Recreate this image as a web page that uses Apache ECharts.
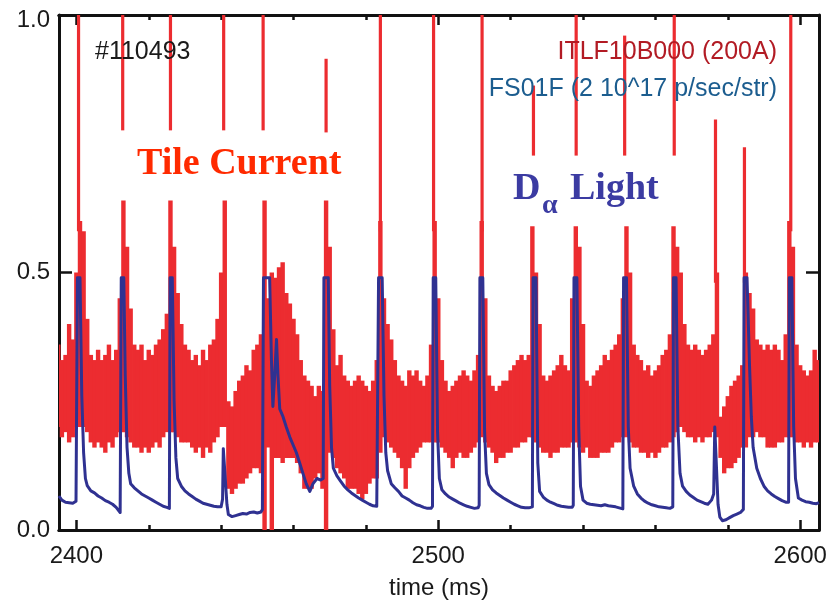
<!DOCTYPE html>
<html><head><meta charset="utf-8">
<script src="https://cdn.jsdelivr.net/npm/echarts@6/dist/echarts.min.js"></script>
<style>html,body{margin:0;padding:0;background:#fff}#c{width:839px;height:600px}</style>
</head><body><div id="c"></div>
<script>
// ---- data ----
const xTickMajor = [2400, 2500, 2600];
const xTickMinor = [2420, 2440, 2460, 2480, 2520, 2540, 2560, 2580];
// Tile current (ITLF10B000): per 1 ms bin [time, low envelope, high envelope]
const tileCurrentBins = [
[2395,.20,.36],[2396,.18,.33],[2397,.19,.34],[2398,.17,.40],[2399,.18,.37],[2400,.20,.50],[2401,.20,.60],[2402,.20,.58],[2403,.19,.41],[2404,.17,.34],
[2405,.16,.33],[2406,.17,.35],[2407,.16,.33],[2408,.15,.34],[2409,.17,.36],[2410,.16,.33],[2411,.18,.35],[2412,.19,.45],[2413,.19,.64],[2414,.18,.55],
[2415,.17,.43],[2416,.16,.36],[2417,.16,.35],[2418,.15,.36],[2419,.16,.33],[2420,.15,.35],[2421,.16,.34],[2422,.17,.36],[2423,.16,.37],[2424,.18,.39],
[2425,.19,.42],[2426,.19,.64],[2427,.19,.55],[2428,.18,.46],[2429,.17,.40],[2430,.17,.36],[2431,.17,.35],[2432,.16,.33],[2433,.15,.34],[2434,.16,.32],
[2435,.14,.35],[2436,.16,.33],[2437,.15,.36],[2438,.17,.37],[2439,.18,.41],[2440,.20,.50],[2441,.20,.64],[2442,.08,.25],[2443,.07,.24],[2444,.08,.27],
[2445,.09,.29],[2446,.09,.30],[2447,.10,.32],[2448,.11,.31],[2449,.12,.35],[2450,.12,.36],[2451,.11,.38],[2452,0,.64],[2453,.16,.45],[2454,0,.50],
[2455,.14,.49],[2456,.14,.51],[2457,.13,.52],[2458,.14,.46],[2459,.14,.44],[2460,.14,.41],[2461,.13,.38],[2462,.11,.33],[2463,.08,.30],[2464,.08,.29],
[2465,.08,.28],[2466,.10,.26],[2467,.11,.28],[2468,.08,.27],[2469,0,.64],[2470,.15,.55],[2471,.14,.39],[2472,.12,.32],[2473,.11,.34],[2474,.10,.30],
[2475,.08,.29],[2476,.08,.28],[2477,.08,.29],[2478,.07,.30],[2479,.06,.29],[2480,.07,.28],[2481,.09,.27],[2482,.10,.29],[2483,.10,.33],[2484,.15,.60],
[2485,.18,.45],[2486,.17,.40],[2487,.16,.37],[2488,.15,.33],[2489,.14,.30],[2490,.12,.29],[2491,.08,.28],[2492,.12,.31],[2493,.14,.30],[2494,.15,.31],
[2495,.16,.29],[2496,.17,.28],[2497,.17,.30],[2498,.17,.36],[2499,.17,.60],[2500,.17,.45],[2501,.16,.33],[2502,.15,.29],[2503,.14,.27],[2504,.12,.28],
[2505,.14,.29],[2506,.15,.30],[2507,.14,.31],[2508,.14,.30],[2509,.15,.29],[2510,.16,.31],[2511,.17,.34],[2512,.18,.60],[2513,.17,.45],[2514,.16,.30],
[2515,.15,.28],[2516,.13,.27],[2517,.14,.28],[2518,.14,.29],[2519,.15,.29],[2520,.15,.31],[2521,.16,.32],[2522,.16,.33],[2523,.17,.34],[2524,.17,.33],
[2525,.18,.34],[2526,.18,.59],[2527,.17,.50],[2528,.16,.40],[2529,.15,.30],[2530,.15,.29],[2531,.14,.30],[2532,.15,.31],[2533,.15,.32],[2534,.16,.34],
[2535,.16,.32],[2536,.16,.31],[2537,.17,.45],[2538,.17,.59],[2539,.16,.55],[2540,.15,.40],[2541,.16,.29],[2542,.14,.28],[2543,.14,.30],[2544,.14,.31],
[2545,.15,.32],[2546,.15,.34],[2547,.15,.33],[2548,.16,.35],[2549,.17,.36],[2550,.17,.38],[2551,.18,.45],[2552,.18,.59],[2553,.17,.50],[2554,.16,.36],
[2555,.16,.34],[2556,.15,.33],[2557,.15,.31],[2558,.14,.32],[2559,.15,.30],[2560,.14,.31],[2561,.15,.32],[2562,.16,.34],[2563,.16,.35],[2564,.17,.38],
[2565,.18,.59],[2566,.19,.55],[2567,.20,.50],[2568,.19,.40],[2569,.18,.36],[2570,.18,.35],[2571,.17,.36],[2572,.18,.35],[2573,.17,.34],[2574,.18,.35],
[2575,.18,.36],[2576,.19,.38],[2577,.18,.50],[2578,.14,.22],[2579,.11,.24],[2580,.12,.26],[2581,.12,.28],[2582,.13,.29],[2583,.14,.30],[2584,.16,.32],
[2585,.16,.50],[2586,.18,.46],[2587,.18,.43],[2588,.19,.37],[2589,.18,.36],[2590,.18,.35],[2591,.16,.36],[2592,.16,.35],[2593,.16,.36],[2594,.17,.35],
[2595,.17,.33],[2596,.18,.38],[2597,.18,.60],[2598,.18,.55],[2599,.17,.36],[2600,.17,.32],[2601,.16,.31],[2602,.17,.30],[2603,.16,.31],[2604,.17,.35],
[2605,.17,.33]
];
// Tile current ELM spikes: [time, stem bottom, stem top]
const tileCurrentSpikes = [
[2400.6,.58,1.02],[2412.8,.776,1.02],[2426.0,.776,1.02],[2440.7,.776,1.02],[2451.6,.776,1.02],[2469.0,.772,.915],
[2484.0,.58,1.02],[2498.7,.58,1.02],[2512.1,.58,1.02],[2526.3,.727,.863],[2538.1,.727,1.02],[2551.5,.727,.96],
[2565.2,.727,1.02],[2576.6,.48,.797],[2584.6,.48,.743],[2597.4,.58,1.02]
];
// D-alpha light (FS01F): [time, value]
const dAlphaPoints = [
[2395.2,.066],[2396,.058],[2397,.054],[2398,.053],[2399,.052],[2399.9,.056],[2400.3,.49],[2401.0,.49],[2401.5,.26],[2402.0,.15],[2402.5,.10],
[2403,.086],[2404,.076],[2405,.072],[2406,.066],[2407,.062],[2408,.057],[2409,.054],[2410,.05],[2411,.044],[2412.1,.034],
[2412.4,.49],[2413.1,.49],[2413.5,.30],[2414,.16],[2414.5,.11],[2415,.09],[2416,.082],[2417,.076],[2418,.07],[2419,.066],[2420,.062],
[2421,.058],[2422,.054],[2423,.05],[2424,.046],[2425,.044],[2425.7,.042],
[2425.9,.49],[2426.5,.49],[2427,.25],[2427.5,.14],[2428,.10],[2429,.085],[2430,.076],[2431,.07],[2432,.065],[2433,.06],[2434,.056],
[2435,.052],[2436,.05],[2437,.048],[2438,.046],[2439,.045],[2440,.045],[2440.4,.06],
[2440.6,.158],[2441.1,.158],[2441.6,.05],[2442,.03],[2443,.026],[2444,.028],[2445,.03],[2446,.032],[2447,.031],[2448,.034],[2449,.035],
[2450,.033],[2451,.035],[2451.4,.04],
[2451.7,.49],[2453.4,.49],[2453.9,.33],[2454.3,.24],[2454.8,.30],[2455.3,.37],[2455.7,.30],[2456.2,.235],[2457.1,.22],[2458,.20],[2459,.18],
[2459.9,.165],[2460.8,.15],[2461.7,.13],[2462.6,.11],[2463.5,.09],[2464.5,.075],[2465.4,.09],[2466.5,.10],[2467.5,.097],[2468.2,.10],
[2468.4,.49],[2469.6,.49],[2470.0,.28],[2470.5,.16],[2471,.12],[2472,.105],[2473,.095],[2474,.085],[2475,.078],[2476,.072],[2477,.067],
[2478,.062],[2479,.058],[2480,.054],[2481,.05],[2482,.047],[2483,.046],[2483.3,.048],
[2483.5,.49],[2484.5,.49],[2485,.26],[2485.5,.15],[2486,.115],[2487,.09],[2488,.082],[2489,.075],[2490,.066],[2491,.062],[2492,.058],
[2493,.053],[2494,.049],[2495,.047],[2496,.044],[2497,.042],[2498,.042],[2498.4,.046],
[2498.6,.49],[2499.3,.49],[2499.8,.19],[2500.3,.10],[2501,.078],[2502,.07],[2503,.064],[2504,.06],[2505,.056],[2506,.052],[2507,.049],
[2508,.046],[2509,.044],[2510,.042],[2511,.043],[2511.3,.048],
[2511.5,.49],[2512.3,.49],[2512.8,.19],[2513.3,.11],[2514,.088],[2515,.078],[2516,.072],[2517,.067],[2518,.062],[2519,.058],[2520,.054],
[2521,.05],[2522,.047],[2523,.044],[2524,.043],[2525,.043],[2526,.045],
[2526.2,.49],[2527.0,.49],[2527.5,.13],[2528,.075],[2529,.064],[2530,.058],[2531,.054],[2532,.051],[2533,.048],[2534,.046],[2535,.045],
[2536,.044],[2537,.044],[2537.3,.048],
[2537.5,.49],[2538.3,.49],[2538.8,.20],[2539.3,.085],[2540,.058],[2541,.052],[2542,.05],[2543,.049],[2544,.048],[2545,.047],[2546,.049],
[2547,.047],[2548,.046],[2549,.045],[2550,.043],[2551,.041],
[2551.2,.49],[2552.0,.49],[2552.5,.20],[2553,.12],[2554,.085],[2555,.07],[2556,.062],[2557,.056],[2558,.052],[2559,.049],[2560,.047],
[2561,.045],[2562,.044],[2563,.043],[2564,.042],[2564.8,.045],
[2565.0,.49],[2565.7,.49],[2566.2,.20],[2566.8,.11],[2567.5,.085],[2568.5,.075],[2569.5,.068],[2570.5,.063],[2571.5,.058],[2572.5,.055],
[2573.5,.052],[2574.5,.05],[2575.5,.058],[2576.1,.07],
[2576.4,.20],[2576.8,.20],[2577.3,.05],[2577.8,.025],[2578.5,.018],[2579.5,.02],[2580.5,.024],[2581.5,.028],[2582.5,.031],[2583.5,.034],[2584.3,.04],
[2584.5,.49],[2585.3,.49],[2585.6,.42],[2586.0,.32],[2586.5,.22],[2587,.16],[2588,.12],[2589,.10],[2590,.085],[2591,.076],[2592,.07],
[2593,.065],[2594,.061],[2595,.057],[2596,.054],[2596.8,.054],
[2597.0,.49],[2597.7,.49],[2598.2,.20],[2598.7,.10],[2599.5,.062],[2600.5,.058],[2601.5,.055],[2602.5,.054],[2603.5,.052],[2604.5,.051],[2605.2,.053]
];

// ---- style ----
const RED = '#ec2c30', BLUE = '#2f3191';
const SANS = '"Liberation Sans", Arial, Helvetica, sans-serif';
const SERIF = '"Liberation Serif", "Times New Roman", serif';
const XMIN = 2395.2, XMAX = 2605.2;
const axisLine = {show: true, onZero: false, lineStyle: {color: '#111', width: 3}};

function xAx(pos, ticks, len, labels, name) {
  return {
    type: 'value', position: pos, min: XMIN, max: XMAX,
    axisLine: axisLine,
    axisTick: {show: true, inside: true, length: len, customValues: ticks, lineStyle: {color: '#111', width: 2.5}},
    axisLabel: labels ? {show: true, customValues: ticks, fontSize: 24, color: '#1a1a1a', fontFamily: SANS, margin: 14,
                         formatter: v => String(Math.round(v))} : {show: false},
    splitLine: {show: false},
    name: name || '', nameLocation: 'middle', nameGap: 46,
    nameTextStyle: {fontSize: 24, color: '#1a1a1a', fontFamily: SANS}
  };
}
function yAx(pos, labels) {
  return {
    type: 'value', position: pos, min: 0, max: 1, interval: 0.5,
    axisLine: axisLine,
    axisTick: {show: true, inside: true, length: 13, lineStyle: {color: '#111', width: 2.5}},
    axisLabel: labels ? {
      show: true, fontSize: 24, color: '#1a1a1a', fontFamily: SANS, margin: 9,
      formatter: v => v === 1 ? '{t|1.0}' : v.toFixed(1),
      rich: {t: {fontSize: 24, color: '#1a1a1a', fontFamily: SANS, padding: [10, 0, 0, 0]}}
    } : {show: false},
    splitLine: {show: false}
  };
}

const chart = echarts.init(document.getElementById('c'), null, {renderer: 'canvas'});
chart.setOption({
  animation: false,
  backgroundColor: '#fff',
  grid: {left: 59, right: 20, top: 15, bottom: 70, containLabel: false, outerBoundsMode: 'none'},
  xAxis: [
    xAx('bottom', xTickMajor, 10, true, 'time (ms)'),
    xAx('bottom', xTickMinor, 5, false),
    xAx('top', xTickMajor, 10, false),
    xAx('top', xTickMinor, 5, false)
  ],
  yAxis: [yAx('left', true), yAx('right', false)],
  series: [
    {
      type: 'custom', name: 'ITLF10B000', xAxisIndex: 0, yAxisIndex: 0, clip: true,
      data: tileCurrentBins,
      encode: {x: 0, y: [1, 2]},
      renderItem: function (params, api) {
        const t = api.value(0), lo = api.value(1), hi = api.value(2);
        const a = api.coord([t - 0.5, hi]), b = api.coord([t + 0.5, lo]);
        return {type: 'rect', shape: {x: a[0] - 0.4, y: a[1], width: b[0] - a[0] + 0.8, height: b[1] - a[1]},
                style: {fill: RED}};
      },
      z: 2
    },
    {
      type: 'custom', name: 'ITLF10B000 spikes', xAxisIndex: 0, yAxisIndex: 0, clip: true,
      data: tileCurrentSpikes,
      encode: {x: 0, y: [1, 2]},
      renderItem: function (params, api) {
        const t = api.value(0), lo = api.value(1), hi = api.value(2);
        const a = api.coord([t, hi]), b = api.coord([t, lo]);
        return {type: 'rect', shape: {x: a[0] - 1.6, y: a[1], width: 3.2, height: b[1] - a[1]},
                style: {fill: RED}};
      },
      z: 3
    },
    {
      type: 'line', name: 'FS01F', xAxisIndex: 0, yAxisIndex: 0, clip: true,
      data: dAlphaPoints, showSymbol: false, symbol: 'none',
      lineStyle: {color: BLUE, width: 3, join: 'round'},
      z: 5
    }
  ],
  graphic: {elements: [
    {type: 'text', x: 95, y: 52.5, z: 10, style: {text: '#110493', font: '25px ' + SANS, fill: '#1a1a1a', textAlign: 'left', align: 'left', textVerticalAlign: 'middle', verticalAlign: 'middle'}},
    {type: 'text', x: 777, y: 52.5, z: 10, style: {text: 'ITLF10B000 (200A)', font: '25px ' + SANS, fill: '#b21b24', textAlign: 'right', align: 'right', textVerticalAlign: 'middle', verticalAlign: 'middle'}},
    {type: 'text', x: 777, y: 89, z: 10, style: {text: 'FS01F (2 10^17 p/sec/str)', font: '25px ' + SANS, fill: '#1c5d8f', textAlign: 'right', align: 'right', textVerticalAlign: 'middle', verticalAlign: 'middle'}},
    {type: 'text', x: 137, y: 164.5, z: 10, style: {text: 'Tile Current', font: 'bold 38px ' + SERIF, fill: '#ff2a00', textAlign: 'left', align: 'left', textVerticalAlign: 'middle', verticalAlign: 'middle'}},
    {type: 'text', x: 513, y: 189.5, z: 10, style: {text: 'D', font: 'bold 38px ' + SERIF, fill: '#3b3ba2', textAlign: 'left', align: 'left', textVerticalAlign: 'middle', verticalAlign: 'middle'}},
    {type: 'text', x: 542, y: 206, z: 10, style: {text: 'α', font: 'bold 28px ' + SERIF, fill: '#3b3ba2', textAlign: 'left', align: 'left', textVerticalAlign: 'middle', verticalAlign: 'middle'}},
    {type: 'text', x: 570, y: 189.5, z: 10, style: {text: 'Light', font: 'bold 38px ' + SERIF, fill: '#3b3ba2', textAlign: 'left', align: 'left', textVerticalAlign: 'middle', verticalAlign: 'middle'}}
  ]}
});
</script>
</body></html>
